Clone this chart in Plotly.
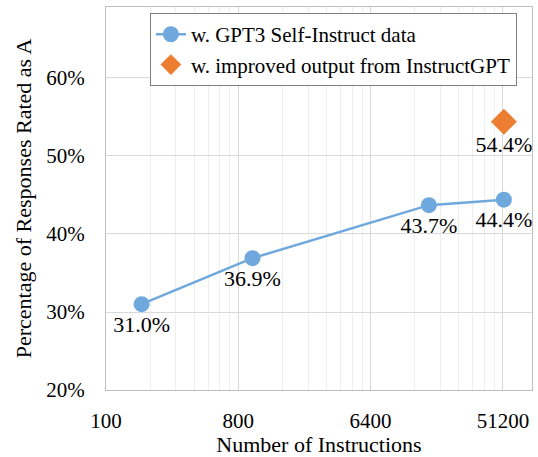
import plotly.graph_objects as go

# Data
instr_counts = [175, 1000, 16000, 52000]
self_instruct_pct = [31.0, 36.9, 43.7, 44.4]
improved_counts = [52000]
improved_pct = [54.4]
x_ticks = [100, 800, 6400, 51200]
y_ticks = [20, 30, 40, 50, 60]

FONT = "Liberation Serif"
BLUE = "#6FA8DC"
ORANGE = "#ED7D31"

minor_vals = [m * k for m in x_ticks for k in range(2, 8)]

fig = go.Figure()
fig.add_trace(go.Scatter(
    x=instr_counts, y=self_instruct_pct, mode="lines+markers+text",
    name="w. GPT3 Self-Instruct data",
    line=dict(color=BLUE, width=2.5),
    marker=dict(color=BLUE, size=16, symbol="circle"),
    text=[f"{v:.1f}%" for v in self_instruct_pct],
    textposition="bottom center",
    textfont=dict(family=FONT, size=22, color="black"),
))
fig.add_trace(go.Scatter(
    x=improved_counts, y=improved_pct, mode="markers+text",
    name="w. improved output from InstructGPT",
    marker=dict(color=ORANGE, size=20, symbol="diamond"),
    text=[f"{v:.1f}%" for v in improved_pct],
    textposition="bottom center",
    textfont=dict(family=FONT, size=22, color="black"),
))

fig.update_layout(
    width=538, height=457,
    margin=dict(l=106, r=6, t=7, b=67, autoexpand=False),
    paper_bgcolor="white", plot_bgcolor="white",
    font=dict(family=FONT, size=21, color="black"),
    showlegend=True,
    legend=dict(
        x=0.103, y=0.984, xanchor="left", yanchor="top",
        bgcolor="white", bordercolor="#7F7F7F", borderwidth=1,
        font=dict(family=FONT, size=21, color="black"),
        tracegroupgap=0,
    ),
    xaxis=dict(
        type="log", range=[2, 4.908], automargin=False,
        tickmode="array", tickvals=x_ticks, ticktext=[str(v) for v in x_ticks],
        showgrid=True, gridcolor="#D9D9D9", gridwidth=1,
        minor=dict(tickmode="array", tickvals=minor_vals, showgrid=True,
                   gridcolor="#EEEEEE", gridwidth=1),
        showline=True, linecolor="#BFBFBF", linewidth=1, mirror=True,
        ticks="", zeroline=False, ticklabelstandoff=12,
        tickfont=dict(family=FONT, size=21),
        title=dict(text="Number of Instructions", font=dict(family=FONT, size=22), standoff=11),
    ),
    yaxis=dict(
        range=[20, 69.1], automargin=False,
        tickmode="array", tickvals=y_ticks, ticktext=[f"{v}%" for v in y_ticks],
        showgrid=True, gridcolor="#D9D9D9", gridwidth=1,
        showline=True, linecolor="#BFBFBF", linewidth=1, mirror=True,
        ticks="", zeroline=False, ticklabelstandoff=16,
        tickfont=dict(family=FONT, size=21),
        title=dict(text="Percentage of Responses Rated as A", font=dict(family=FONT, size=22), standoff=8),
    ),
)

fig.write_html(
    "out.html",
    config={"displayModeBar": False},
    post_script="document.body.style.margin='0';document.body.style.overflow='hidden';",
)
